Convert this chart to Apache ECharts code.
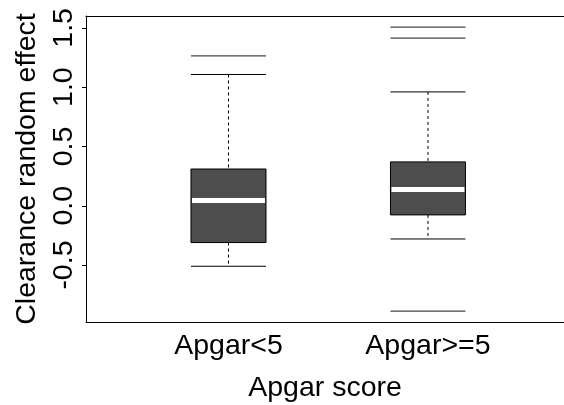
<!DOCTYPE html>
<html>
<head>
<meta charset="utf-8">
<script src="https://cdn.jsdelivr.net/npm/echarts@6/dist/echarts.min.js"></script>
<style>html,body{margin:0;padding:0;background:#fff;}#c{width:564px;height:405px;}</style>
</head>
<body>
<div id="c"></div>
<script>
var categories = ['Apgar<5', 'Apgar>=5'];
var lowerWhisker = [-0.51, -0.28];
var q1 = [-0.31, -0.077];
var median = [0.045, 0.137];
var q3 = [0.31, 0.37];
var upperWhisker = [1.107, 0.96];
var outliers = [[1.264], [1.506, 1.413, -0.889]];
var yTicks = [-0.5, 0.0, 0.5, 1.0, 1.5];

var HALF = 0.188;
var FONT = 'Liberation Sans, Arial, sans-serif';

var boxData = categories.map(function (c, i) {
  return [i + 1, lowerWhisker[i], q1[i], median[i], q3[i], upperWhisker[i]];
});
var outData = [];
outliers.forEach(function (arr, i) {
  arr.forEach(function (v) { outData.push([i + 1, v]); });
});

function renderBox(params, api) {
  var x = api.value(0);
  var lo = api.coord([x - HALF, api.value(1)]);
  var hi = api.coord([x + HALF, api.value(5)]);
  var pQ1 = api.coord([x - HALF, api.value(2)]);
  var pQ3 = api.coord([x + HALF, api.value(4)]);
  var pMed = api.coord([x, api.value(3)]);
  var cx = api.coord([x, 0])[0];
  var left = pQ1[0], right = pQ3[0];
  return {
    type: 'group',
    children: [
      { type: 'line', shape: { x1: cx, y1: hi[1], x2: cx, y2: pQ3[1] }, style: { stroke: '#000', lineWidth: 1, lineDash: [3, 3] } },
      { type: 'line', shape: { x1: cx, y1: pQ1[1], x2: cx, y2: lo[1] }, style: { stroke: '#000', lineWidth: 1, lineDash: [3, 3] } },
      { type: 'line', shape: { x1: left, y1: hi[1], x2: right, y2: hi[1] }, style: { stroke: '#000', lineWidth: 1 } },
      { type: 'line', shape: { x1: left, y1: lo[1], x2: right, y2: lo[1] }, style: { stroke: '#000', lineWidth: 1 } },
      { type: 'rect', shape: { x: left, y: pQ3[1], width: right - left, height: pQ1[1] - pQ3[1] }, style: { fill: '#4d4d4d', stroke: '#000', lineWidth: 1 } },
      { type: 'line', shape: { x1: left + 1, y1: pMed[1], x2: right - 1, y2: pMed[1] }, style: { stroke: '#fff', lineWidth: 5 } }
    ]
  };
}

function renderOut(params, api) {
  var x = api.value(0);
  var a = api.coord([x - HALF, api.value(1)]);
  var b = api.coord([x + HALF, api.value(1)]);
  return { type: 'line', shape: { x1: a[0], y1: a[1], x2: b[0], y2: b[1] }, style: { stroke: '#444', lineWidth: 1.2 } };
}

var chart = echarts.init(document.getElementById('c'), null, { renderer: 'canvas' });
chart.setOption({
  animation: false,
  backgroundColor: '#fff',
  grid: { left: 86, top: 16, right: 0, bottom: 83, containLabel: false, outerBoundsMode: 'none' },
  xAxis: [{
    type: 'value', min: 0.2857, max: 2.682,
    splitLine: { show: false },
    axisLine: { show: true, onZero: false, lineStyle: { color: '#000', width: 1 } },
    axisTick: { show: false },
    axisLabel: {
      customValues: [1, 2],
      formatter: function (v) { return categories[Math.round(v) - 1] || ''; },
      color: '#000', fontFamily: FONT, fontSize: 28.5, margin: 10
    },
    name: 'Apgar score', nameLocation: 'middle', nameGap: 52,
    nameTextStyle: { color: '#000', fontFamily: FONT, fontSize: 28.5 }
  }, {
    type: 'value', position: 'top', min: 0.2857, max: 2.682,
    splitLine: { show: false },
    axisLine: { show: true, onZero: false, lineStyle: { color: '#000', width: 1 } },
    axisTick: { show: false }, axisLabel: { show: false }
  }],
  yAxis: {
    type: 'value', min: -0.98, max: 1.6,
    splitLine: { show: false },
    axisLine: { show: true, onZero: false, lineStyle: { color: '#000', width: 1 } },
    axisTick: { show: true, customValues: yTicks, length: 4, lineStyle: { color: '#000' } },
    axisLabel: {
      customValues: yTicks, rotate: 90, margin: 7,
      formatter: function (v) { return v.toFixed(1); },
      color: '#000', fontFamily: FONT, fontSize: 28.5
    },
    name: 'Clearance random effect', nameLocation: 'middle', nameGap: 43, nameRotate: 90,
    nameTextStyle: { color: '#000', fontFamily: FONT, fontSize: 28.5 }
  },
  series: [{
    type: 'custom', renderItem: renderBox, data: boxData,
    encode: { x: 0, y: [1, 2, 3, 4, 5] }, clip: false
  }, {
    type: 'custom', renderItem: renderOut, data: outData,
    encode: { x: 0, y: 1 }, clip: false
  }]
});
</script>
</body>
</html>
